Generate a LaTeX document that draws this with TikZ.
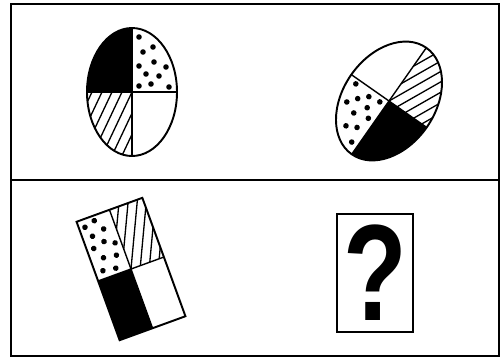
\documentclass[tikz,border=0pt]{standalone}
\usepackage{fontspec}
\usepackage{tikz}
\newfontfamily\qmfont{Liberation Sans}
% hatching: parallel "/" lines, clipped by the caller
\newcommand{\hatchlines}{\foreach \i in {-9,...,9} \draw[hatch] (\i*10-34,72) -- (\i*10+34,-72);}

\begin{document}
\begin{tikzpicture}[
    x=0.02cm, y=-0.02cm,
    frame/.style={line width=1.2pt},
    outline/.style={line width=1.1pt},
    divide/.style={line width=0.8pt},
    hatch/.style={line width=0.75pt},
    qbox/.style={rectangle,draw,line width=1pt,minimum width=1.52cm,minimum height=2.36cm,inner sep=0pt,
                 font=\qmfont\bfseries\fontsize{78}{78}\selectfont}
  ]
  \useasboundingbox (0,0) rectangle (501,360);
  \draw[frame] (11,4) rectangle (499,356);
  \draw[frame] (11,180) -- (499,180);

  % upright ellipse
  \begin{scope}[shift={(132,92)}]
    \begin{scope}
      \clip (0,0) ellipse [x radius=45, y radius=64];
      \fill (-50,-70) rectangle (0,0);
      \begin{scope}
        \clip (-50,0) rectangle (0,70);
        \hatchlines
      \end{scope}
      \foreach \p in {(7,-55),(11,-40),(21,-45),(7,-26),(22,-30),(34,-25),(14,-18),(27,-16),(7,-6),(19,-8),(37,-5)}
        \fill \p circle (2.8);
      \draw[divide] (0,-64) -- (0,64) (-45,0) -- (45,0);
    \end{scope}
    \draw[outline] (0,0) ellipse [x radius=45, y radius=64];
  \end{scope}

  % tilted ellipse
  \begin{scope}[shift={(389,101)}, rotate=-35]
    \begin{scope}
      \clip (0,0) ellipse [x radius=46, y radius=65];
      \fill (0,0) rectangle (50,70);
      \begin{scope}
        \clip (0,-70) rectangle (50,0);
        \hatchlines
      \end{scope}
      \foreach \p in {(-7,55),(-11,40),(-21,45),(-7,26),(-22,30),(-34,25),(-14,18),(-27,16),(-7,6),(-19,8),(-37,5)}
        \fill \p circle (2.8);
      \draw[divide] (0,-65) -- (0,65) (-46,0) -- (46,0);
    \end{scope}
    \draw[outline] (0,0) ellipse [x radius=46, y radius=65];
  \end{scope}

  % tilted card
  \begin{scope}[shift={(131,269)}, rotate=20]
    \fill (-35,0) rectangle (0,63);
    \begin{scope}
      \clip (0,-63) rectangle (35,0);
      \hatchlines
    \end{scope}
    \foreach \p in {(-29,-55),(-18,-58),(-25,-44),(-12,-47),(-28,-32),(-16,-35),(-6,-30),(-22,-20),(-9,-18),(-27,-8),(-14,-6)}
      \fill \p circle (2.8);
    \draw[divide] (0,-63) -- (0,63) (-35,0) -- (35,0);
    \draw[outline] (-35,-63) rectangle (35,63);
  \end{scope}

  \node[qbox] (qm) at (375,273) {\scalebox{0.76}[1]{?}};
\end{tikzpicture}
\end{document}
